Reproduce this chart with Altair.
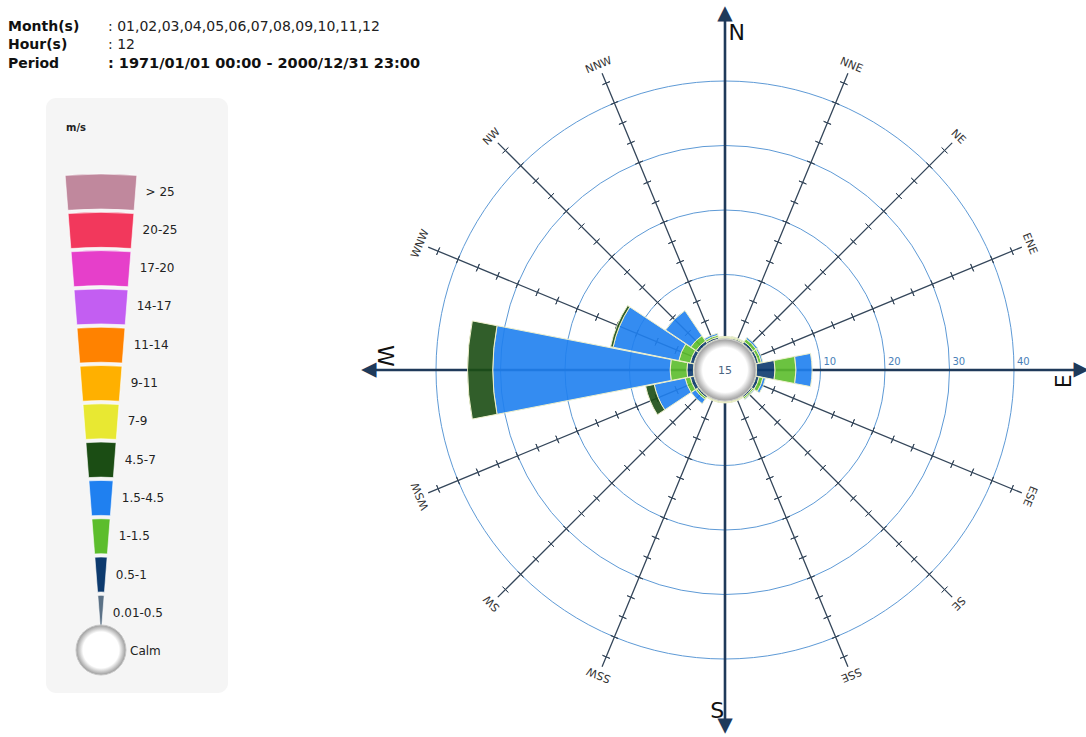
import math
import altair as alt
import pandas as pd

# ---------------- data ----------------
directions = ["N", "NNE", "NE", "ENE", "E", "ESE", "SE", "SSE",
              "S", "SSW", "SW", "WSW", "W", "WNW", "NW", "NNW"]
dir_angle = [i * 22.5 for i in range(16)]

classes = ["0.01-0.5", "0.5-1", "1-1.5", "1.5-4.5", "4.5-7", "7-9",
           "9-11", "11-14", "14-17", "17-20", "20-25", "> 25"]
class_colors = ["#5b7186", "#0d3a6e", "#5cbd2c", "#1f80f0", "#1b4d14", "#e8e832",
                "#ffb000", "#ff8200", "#c35ef2", "#e63fca", "#f2385c", "#c0889d"]

# frequency (%) per direction (N .. NNW) for each speed class
f_001_05 = [0.05, 0.05, 0.1, 0.1, 0.1, 0.1, 0.05, 0.05, 0.05, 0.05, 0.1, 0.1, 0.1, 0.1, 0.1, 0.1]
f_05_1   = [0.15, 0.2, 0.4, 0.4, 2.85, 0.5, 0.25, 0.1, 0.1, 0.1, 0.3, 0.6, 1.0, 0.6, 0.5, 0.3]
f_1_15   = [0.1, 0.15, 0.5, 0.45, 3.25, 0.6, 0.25, 0.1, 0.1, 0.1, 0.3, 0.8, 2.6, 1.8, 1.0, 0.3]
f_15_45  = [0.1, 0.1, 0.3, 0.25, 2.5, 0.4, 0.15, 0.05, 0.05, 0.05, 0.8, 4.9, 27.5, 10.4, 4.7, 0.3]
f_45_7   = [0, 0, 0, 0, 0, 0, 0, 0, 0, 0, 0, 1.35, 3.9, 0.4, 0, 0]
zeros = [0] * 16
freqs = [f_001_05, f_05_1, f_1_15, f_15_45, f_45_7,
         zeros, zeros, zeros, zeros, zeros, zeros, zeros]

calm_pct = "15"
rings = [10, 20, 30, 40]
ring_labels = ["10", "20", "30", "40"]
cardinals = ["N", "E", "S", "W"]

header_keys = ["Month(s)", "Hour(s)", "Period"]
header_vals = [": 01,02,03,04,05,06,07,08,09,10,11,12", ": 12",
               ": 1971/01/01 00:00 - 2000/12/31 23:00"]

# ---------------- layout ----------------
CX, CY = 725, 370
R0, R_PER = 31, 6.45          # calm radius (px) and px per percent
TH = alt.Scale(type="linear", domain=[0, 360], range=[0, 2 * math.pi])
RS = alt.Scale(type="linear", domain=[0, 40], range=[R0, R0 + 40 * R_PER], zero=False)
IDENT = alt.Scale(type="linear", domain=[0, 1000], range=[0, 1000], zero=False)
ANG = alt.Scale(type="linear", domain=[0, 360], range=[0, 360])
COL = alt.Scale(domain=classes, range=class_colors)
AXIS_COL = "#1f3a5a"
SPOKE_COL = "#34465a"
RING_COL = "#5e9ad6"
FONT = "DejaVu Sans"

# rose segments
rows = []
for i, d in enumerate(directions):
    cum = 0.0
    for j, c in enumerate(classes):
        v = freqs[j][i]
        if v <= 0:
            continue
        rows.append(dict(dir=d, cls=c, r1=cum, r2=cum + v,
                         t1=dir_angle[i] - 11 + 360, t2=dir_angle[i] + 11 + 360))
        cum += v
rose = pd.DataFrame(rows)

ring_df = pd.DataFrame({"v": rings, "t1": 0, "t2": 360, "te": 90, "lab": ring_labels})

inter = [(d, a) for d, a in zip(directions, dir_angle) if d not in cardinals]
spoke_df = pd.DataFrame({"dir": [d for d, _ in inter], "t": [a for _, a in inter],
                         "r1": 0, "r2": 45})
lab_df = pd.DataFrame({"dir": [d for d, _ in inter], "t": [a for _, a in inter], "r": 46.3})

tick_rows = []
for d, a in inter:
    for k in range(1, 14):
        v = k * 10 / 3
        dd = math.degrees(4 / (R0 + R_PER * v))
        tick_rows.append(dict(t1=a - dd + 360, t2=a + dd + 360, v=v))
tick_df = pd.DataFrame(tick_rows)

card_df = pd.DataFrame({"dir": cardinals, "t": [0, 90, 180, 270], "r1": 0, "r2": 50.2,
                        "rh": 50.6, "head": "▲"})
card_lab_df = pd.DataFrame({"dir": cardinals, "t": [2.0, 91.9, 181.3, 272.4],
                            "r": [47.5, 47.8, 48.1, 47.9], "rot": [0, 270, 0, 90]})

# legend (funnel of wedges)
APEX_X, APEX_Y = 101, 636
HALF = 4.45
leg_rows = []
for i, c in enumerate(reversed(classes)):
    top = 174 + 38.3 * i
    bot = min(top + 35, APEX_Y)
    yc = (top + bot) / 2
    leg_rows.append(dict(cls=c, ro=APEX_Y - top, ri=max(APEX_Y - bot, 0),
                         t1=360 - HALF, t2=360 + HALF,
                         lx=APEX_X + (APEX_Y - yc) * math.tan(math.radians(HALF)) + 10,
                         ly=yc))
leg_df = pd.DataFrame(leg_rows)

hdr_df = pd.DataFrame({"k": header_keys, "v": header_vals, "y": [27, 45, 64],
                       "bold": [False, False, True]})

one = pd.DataFrame({"a": [0]})
cx, cy = alt.value(CX), alt.value(CY)

layers = []
# legend box
layers.append(alt.Chart(one).mark_rect(color="#f5f5f5", cornerRadius=10).encode(
    x=alt.value(46), x2=alt.value(228), y=alt.value(98), y2=alt.value(693)))
# header
layers.append(alt.Chart(hdr_df).mark_text(align="left", baseline="middle", font=FONT,
                                          fontSize=14, fontWeight="bold", color="#111").encode(
    x=alt.value(8), y=alt.Y("y:Q", scale=None, axis=None), text="k:N"))
layers.append(alt.Chart(hdr_df[~hdr_df.bold]).mark_text(align="left", baseline="middle", font=FONT,
                                                        fontSize=14, color="#222").encode(
    x=alt.value(108), y=alt.Y("y:Q", scale=None, axis=None), text="v:N"))
layers.append(alt.Chart(hdr_df[hdr_df.bold]).mark_text(align="left", baseline="middle", font=FONT,
                                                       fontSize=14.5, fontWeight="bold", color="#111").encode(
    x=alt.value(108), y=alt.Y("y:Q", scale=None, axis=None), text="v:N"))
# m/s
layers.append(alt.Chart(one).mark_text(text="m/s", align="left", baseline="middle", font=FONT,
                                       fontSize=10, fontWeight="bold", color="#222").encode(
    x=alt.value(66), y=alt.value(128)))
# legend wedges
layers.append(alt.Chart(leg_df).mark_arc(stroke="#ffffff", strokeWidth=0.6).encode(
    x=alt.value(APEX_X), y=alt.value(APEX_Y),
    theta=alt.Theta("t1:Q", scale=TH, stack=None), theta2="t2:Q",
    radius=alt.Radius("ro:Q", scale=IDENT), radius2="ri:Q",
    color=alt.Color("cls:N", scale=COL, legend=None)))
layers.append(alt.Chart(leg_df).mark_text(align="left", baseline="middle", font=FONT,
                                          fontSize=12, color="#222").encode(
    x=alt.X("lx:Q", scale=None, axis=None), y=alt.Y("ly:Q", scale=None, axis=None), text="cls:N"))
calm_fill = alt.Gradient(gradient="radial",
                         stops=[alt.GradientStop(offset=0, color="#ffffff"),
                                alt.GradientStop(offset=0.72, color="#ffffff"),
                                alt.GradientStop(offset=1, color="#9a9a9a")],
                         x1=0.5, y1=0.5, x2=0.5, y2=0.5, r1=0, r2=0.5)
layers.append(alt.Chart(one).mark_arc(fill=calm_fill, stroke="#c8c8c8", strokeWidth=1).encode(
    x=alt.value(101), y=alt.value(650), theta=alt.value(0), theta2=alt.value(2 * math.pi),
    radius=alt.value(25)))
layers.append(alt.Chart(one).mark_text(text="Calm", align="left", baseline="middle", font=FONT,
                                       fontSize=12, color="#222").encode(
    x=alt.value(130), y=alt.value(651)))

# rings
layers.append(alt.Chart(ring_df).mark_arc(fillOpacity=0, stroke=RING_COL, strokeWidth=1).encode(
    x=cx, y=cy, theta=alt.Theta("t1:Q", scale=TH, stack=None), theta2="t2:Q",
    radius=alt.Radius("v:Q", scale=RS)))
# spokes and ticks
layers.append(alt.Chart(spoke_df).mark_arc(fillOpacity=0, stroke=SPOKE_COL, strokeWidth=1.3).encode(
    x=cx, y=cy, theta=alt.Theta("t:Q", scale=TH, stack=None), theta2="t:Q",
    radius=alt.Radius("r2:Q", scale=RS), radius2="r1:Q"))
layers.append(alt.Chart(tick_df).mark_arc(fillOpacity=0, stroke=SPOKE_COL, strokeWidth=1).encode(
    x=cx, y=cy, theta=alt.Theta("t1:Q", scale=TH, stack=None), theta2="t2:Q",
    radius=alt.Radius("v:Q", scale=RS), radius2="v:Q"))
# cardinal axes
layers.append(alt.Chart(card_df).mark_arc(fillOpacity=0, stroke=AXIS_COL, strokeWidth=2.6).encode(
    x=cx, y=cy, theta=alt.Theta("t:Q", scale=TH, stack=None), theta2="t:Q",
    radius=alt.Radius("r2:Q", scale=RS), radius2="r1:Q"))
layers.append(alt.Chart(card_df).mark_text(align="center", baseline="middle", font=FONT,
                                           fontSize=20, color=AXIS_COL).encode(
    x=cx, y=cy, theta=alt.Theta("t:Q", scale=TH, stack=None),
    radius=alt.Radius("rh:Q", scale=RS), angle=alt.Angle("t:Q", scale=ANG), text="head:N"))
# rose bars
layers.append(alt.Chart(rose).mark_arc(stroke="#eef0c8", strokeWidth=1, opacity=0.9).encode(
    x=cx, y=cy, theta=alt.Theta("t1:Q", scale=TH, stack=None), theta2="t2:Q",
    radius=alt.Radius("r2:Q", scale=RS), radius2="r1:Q",
    color=alt.Color("cls:N", scale=COL, legend=None),
    tooltip=["dir:N", "cls:N"]))
# calm circle
layers.append(alt.Chart(one).mark_arc(fill=calm_fill, stroke="#cccccc", strokeWidth=1).encode(
    x=cx, y=cy, theta=alt.value(0), theta2=alt.value(2 * math.pi), radius=alt.value(R0)))
layers.append(alt.Chart(one).mark_text(text=calm_pct, align="center", baseline="middle", font=FONT,
                                       fontSize=11, color="#4a6582").encode(x=cx, y=alt.value(CY + 1)))
# ring labels (along the E axis)
layers.append(alt.Chart(ring_df).mark_text(align="left", baseline="middle", font=FONT, fontSize=10,
                                           color="#4a7fb8", dx=3, dy=-8).encode(
    x=cx, y=cy, theta=alt.Theta("te:Q", scale=TH, stack=None),
    radius=alt.Radius("v:Q", scale=RS), text="lab:N"))
# direction labels
layers.append(alt.Chart(lab_df).mark_text(align="center", baseline="middle", font=FONT, fontSize=11,
                                          color="#333").encode(
    x=cx, y=cy, theta=alt.Theta("t:Q", scale=TH, stack=None),
    radius=alt.Radius("r:Q", scale=RS), angle=alt.Angle("t:Q", scale=ANG), text="dir:N"))
layers.append(alt.Chart(card_lab_df).mark_text(align="center", baseline="middle", font=FONT,
                                               fontSize=22, color="#111").encode(
    x=cx, y=cy, theta=alt.Theta("t:Q", scale=TH, stack=None),
    radius=alt.Radius("r:Q", scale=RS), angle=alt.Angle("rot:Q", scale=ANG), text="dir:N"))

chart = alt.layer(*layers).resolve_scale(radius="independent").properties(
    width=1086, height=737, autosize="none", padding=0, background="white"
).configure_view(strokeWidth=0)

chart.save("out.html", embed_options={"renderer": "svg", "actions": False})
